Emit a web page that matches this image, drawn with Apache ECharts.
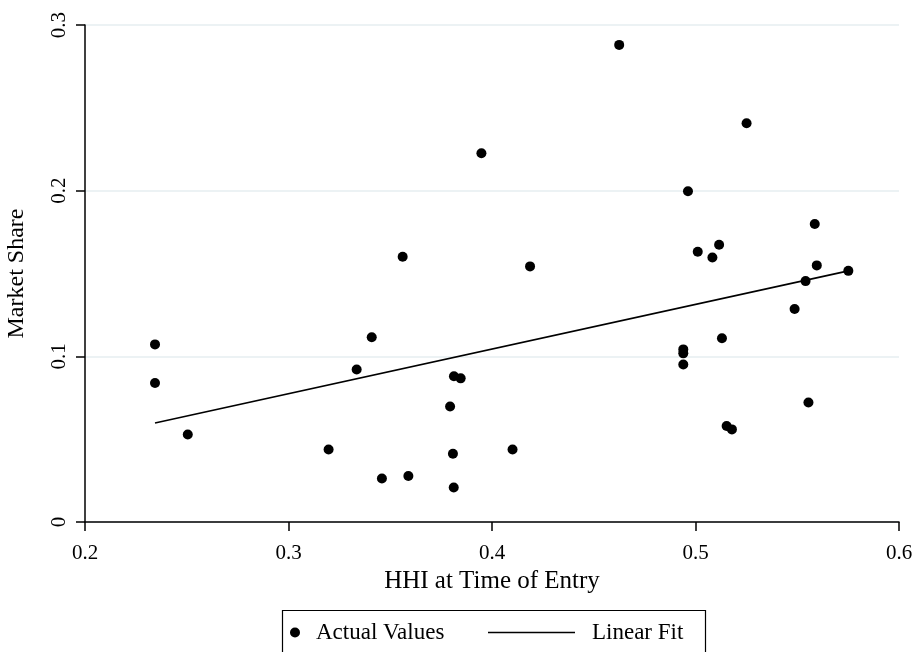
<!DOCTYPE html>
<html>
<head>
<meta charset="utf-8">
<script src="https://cdn.jsdelivr.net/npm/echarts@6/dist/echarts.min.js"></script>
<style>html,body{margin:0;padding:0;background:#fff}#c{width:917px;height:652px}</style>
</head>
<body>
<div id="c"></div>
<script>
var hhi = [0.2344, 0.2344, 0.2505, 0.3197, 0.3335, 0.3409, 0.3459, 0.3561, 0.3589, 0.3794, 0.3808, 0.3812, 0.3813, 0.3846, 0.3948, 0.4101, 0.4187, 0.4625, 0.4940, 0.4940, 0.4940, 0.4963, 0.5011, 0.5083, 0.5116, 0.5130, 0.5153, 0.5179, 0.5251, 0.5487, 0.5541, 0.5555, 0.5586, 0.5596, 0.5751];
var share = [0.1072, 0.0839, 0.0528, 0.0438, 0.0921, 0.1115, 0.0263, 0.1601, 0.0278, 0.0697, 0.0412, 0.0208, 0.0880, 0.0867, 0.2226, 0.0438, 0.1543, 0.288, 0.1042, 0.1018, 0.0951, 0.1996, 0.1631, 0.1597, 0.1674, 0.1109, 0.0579, 0.0559, 0.2407, 0.1286, 0.1454, 0.0721, 0.1799, 0.1549, 0.1516];
var fitX = [0.2344, 0.5751];
var fitY = [0.0598, 0.1516];
var xTicks = ['0.2', '0.3', '0.4', '0.5', '0.6'];
var yTicks = ['0', '0.1', '0.2', '0.3'];

var FONT = '"Liberation Serif", "DejaVu Serif", serif';
var scatterData = hhi.map(function (v, i) { return [v, share[i]]; });
var fitData = fitX.map(function (v, i) { return [v, fitY[i]]; });

var chart = echarts.init(document.getElementById('c'), null, {renderer: 'canvas'});
chart.setOption({
  animation: false,
  backgroundColor: '#ffffff',
  textStyle: {fontFamily: FONT, color: '#000'},
  grid: {left: 85, right: 18, top: 25, bottom: 130, outerBoundsMode: 'none', containLabel: false},
  xAxis: {
    type: 'value', min: 0.2, max: 0.6, interval: 0.1,
    name: 'HHI at Time of Entry', nameLocation: 'middle', nameGap: 47,
    nameTextStyle: {fontFamily: FONT, fontSize: 25, color: '#000'},
    axisLine: {show: true, lineStyle: {color: '#000', width: 1.5}},
    axisTick: {show: true, inside: false, length: 9, lineStyle: {color: '#000', width: 1.5}},
    axisLabel: {margin: 21, fontFamily: FONT, fontSize: 21, color: '#000',
      formatter: function (v) { return xTicks[Math.round((v - 0.2) * 10)]; }},
    splitLine: {show: false}
  },
  yAxis: {
    type: 'value', min: 0, max: 0.3, interval: 0.1,
    name: 'Market Share', nameLocation: 'middle', nameGap: 56, nameRotate: 90,
    nameTextStyle: {fontFamily: FONT, fontSize: 24, color: '#000'},
    axisLine: {show: true, lineStyle: {color: '#000', width: 1.5}},
    axisTick: {show: true, inside: false, length: 9, lineStyle: {color: '#000', width: 1.5}},
    axisLabel: {margin: 15, rotate: 90, fontFamily: FONT, fontSize: 21, color: '#000',
      formatter: function (v) { return yTicks[Math.round(v * 10)]; }},
    splitLine: {show: true, lineStyle: {color: '#e6eef0', width: 1.5}}
  },
  legend: [
    {
      data: [{name: 'Actual Values', icon: 'circle'}],
      left: 290, top: 621, padding: 0,
      itemWidth: 10, itemHeight: 10,
      textStyle: {fontFamily: FONT, fontSize: 23, color: '#000', padding: [0, 0, 0, 11]}
    },
    {
      data: [{name: 'Linear Fit', icon: 'rect', itemStyle: {color: '#000', opacity: 1}}],
      left: 488, top: 621, padding: 0,
      itemWidth: 87, itemHeight: 1.6,
      textStyle: {fontFamily: FONT, fontSize: 23, color: '#000', padding: [0, 0, 0, 12]}
    }
  ],
  graphic: [{
    type: 'rect', left: 280, top: 608, silent: true,
    shape: {x: 0, y: 0, width: 423, height: 60},
    style: {fill: 'none', stroke: '#000', lineWidth: 1.2}
  }],
  series: [
    {
      name: 'Linear Fit', type: 'line', data: fitData, symbol: 'none',
      lineStyle: {color: '#000', width: 1.6}, itemStyle: {color: '#000'}, z: 2
    },
    {
      name: 'Actual Values', type: 'scatter', data: scatterData, symbol: 'circle', symbolSize: 10,
      itemStyle: {color: '#000', opacity: 1}, z: 3
    }
  ]
});
</script>
</body>
</html>
